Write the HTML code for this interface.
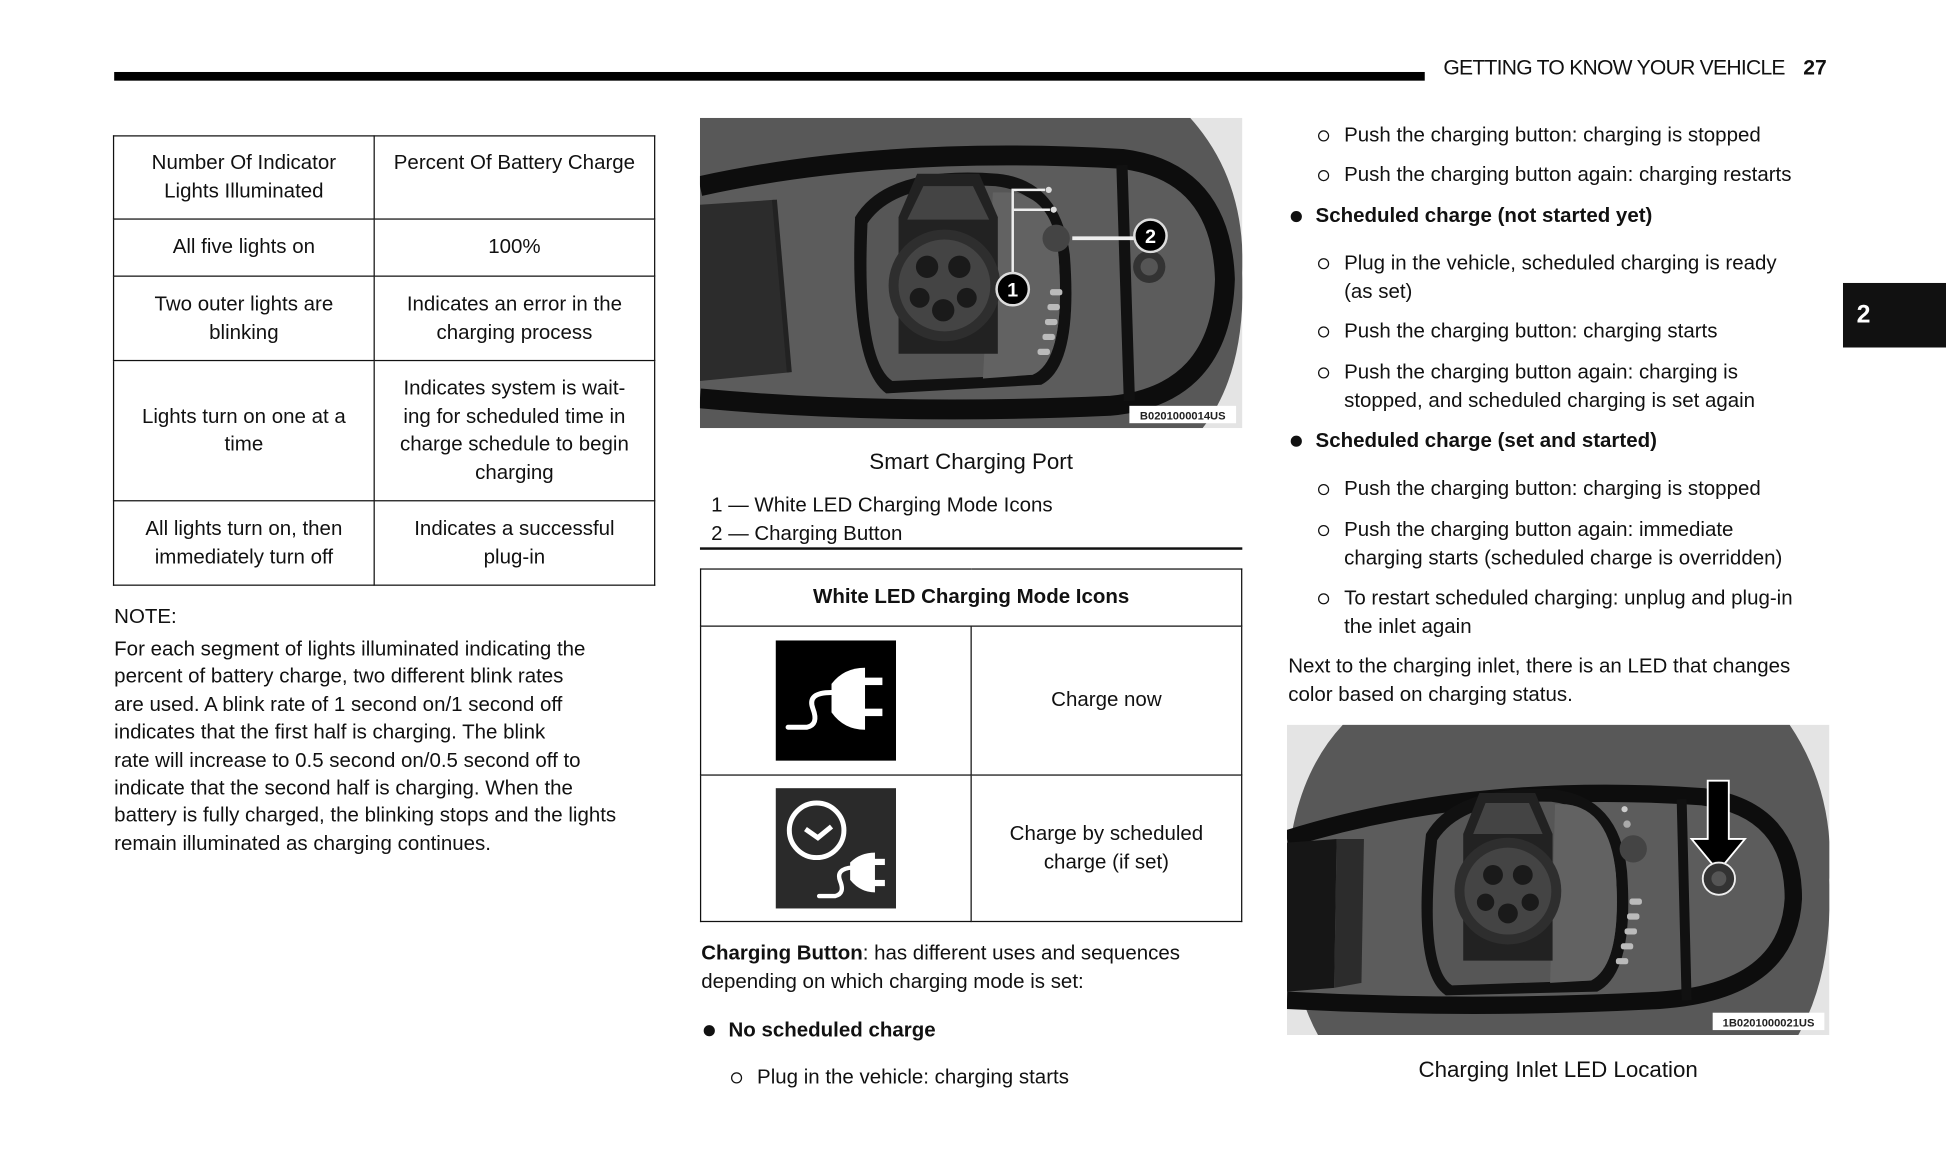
<!DOCTYPE html>
<html><head><meta charset="utf-8"><style>
*{margin:0;padding:0;box-sizing:border-box}
html,body{width:1946px;height:1174px;overflow:hidden;background:#fff}
#p{position:absolute;left:0;top:0;width:1568px;height:946px;transform:scale(1.24107);transform-origin:0 0;font-family:"Liberation Sans",sans-serif;color:#111;font-size:16.5px}
.a{position:absolute;white-space:nowrap;line-height:22.5px}
.c{text-align:center}
table{position:absolute;border-collapse:collapse}
td{border:1.5px solid #111;text-align:center;vertical-align:middle;line-height:22.5px;font-size:16.5px}
.b{font-weight:bold}
.dot{position:absolute;width:9px;height:9px;border-radius:50%;background:#111}
.ring{position:absolute;width:9px;height:9px;border-radius:50%;border:1.5px solid #111}
</style></head><body><div id="p">
<div style="position:absolute;left:92px;top:58px;width:1056px;height:7px;background:#000"></div>
<div class="a" style="left:1163px;top:44px;font-size:17px;letter-spacing:-0.6px">GETTING TO KNOW YOUR VEHICLE</div>
<div class="a b" style="left:1453px;top:44px;font-size:17px">27</div>
<div style="position:absolute;left:1485px;top:228px;width:83px;height:52px;background:#111"></div>
<div class="a b" style="left:1496px;top:243px;color:#fff;font-size:20px">2</div>

<table style="left:91px;top:109px;width:437px;height:363px">
<tr style="height:67px"><td style="width:210px;vertical-align:top;padding-top:10px">Number Of Indicator<br>Lights Illuminated</td><td style="vertical-align:top;padding-top:10px">Percent Of Battery Charge</td></tr>
<tr style="height:46px"><td>All five lights on</td><td>100%</td></tr>
<tr style="height:68px"><td>Two outer lights are<br>blinking</td><td>Indicates an error in the<br>charging process</td></tr>
<tr style="height:113px"><td>Lights turn on one at a<br>time</td><td>Indicates system is wait-<br>ing for scheduled time in<br>charge schedule to begin<br>charging</td></tr>
<tr style="height:68px"><td>All lights turn on, then<br>immediately turn off</td><td>Indicates a successful<br>plug-in</td></tr>
</table>
<div class="a" style="left:92px;top:486px">NOTE:</div>
<div class="a" style="left:92px;top:512px;line-height:22.4px">For each segment of lights illuminated indicating the<br>percent of battery charge, two different blink rates<br>are used. A blink rate of 1 second on/1 second off<br>indicates that the first half is charging. The blink<br>rate will increase to 0.5 second on/0.5 second off to<br>indicate that the second half is charging. When the<br>battery is fully charged, the blinking stops and the lights<br>remain illuminated as charging continues.</div>

<!-- photo 1 -->
<svg style="position:absolute;left:564px;top:95px" width="437" height="250" viewBox="0 0 437 250">
<rect width="437" height="250" fill="#e4e4e4"/>
<path d="M0 0 H395 Q440 50 437 125 Q440 205 405 250 H0Z" fill="#585858"/>
<path d="M0 55 Q150 22 340 33 Q420 43 423 130 Q420 224 330 232 Q150 240 0 226" stroke="#0d0d0d" stroke-width="16" fill="#5c5c5c"/>
<path d="M340 38 L346 228" stroke="#111" stroke-width="9"/>
<path d="M0 70 L60 66 L72 205 L0 212Z" fill="#2c2c2c"/>
<path d="M60 66 L72 205" stroke="#222" stroke-width="4"/>
<path d="M125 80 Q150 38 240 45 Q290 50 298 110 Q305 200 275 215 L150 222 Q120 200 125 80Z" fill="#111"/>
<path d="M135 85 Q158 50 238 55 Q283 60 289 112 Q295 195 268 207 L155 212 Q130 195 135 85Z" fill="#565656"/>
<path d="M248 60 Q285 62 289 112 Q295 195 268 207 L228 210 L236 60Z" fill="#626262"/>
<path d="M160 80 L175 45 L225 45 L240 80 L240 190 L160 190Z" fill="#222"/>
<path d="M167 82 L180 55 L220 55 L233 82Z" fill="#444"/>
<circle cx="197" cy="135" r="45" fill="#2e2e2e"/><circle cx="197" cy="135" r="37" fill="#444"/>
<circle cx="183" cy="120" r="9" fill="#1a1a1a"/><circle cx="209" cy="120" r="9" fill="#1a1a1a"/><circle cx="177" cy="145" r="8" fill="#1a1a1a"/><circle cx="215" cy="145" r="8" fill="#1a1a1a"/><circle cx="196" cy="155" r="9" fill="#1a1a1a"/>
<circle cx="287" cy="97" r="11" fill="#444"/>
<g fill="#bbb"><rect x="282" y="138" width="10" height="5" rx="2"/><rect x="280" y="150" width="10" height="5" rx="2"/><rect x="278" y="162" width="10" height="5" rx="2"/><rect x="276" y="174" width="10" height="5" rx="2"/><rect x="272" y="186" width="10" height="5" rx="2"/></g>
<path d="M252 130 V58 H278 M252 74 H282" stroke="#eee" stroke-width="2" fill="none"/>
<circle cx="281" cy="58" r="2.5" fill="#ddd"/><circle cx="285" cy="74" r="2.5" fill="#ddd"/>
<path d="M300 97 H350" stroke="#eee" stroke-width="3"/>
<circle cx="362" cy="120" r="13" fill="#333"/><circle cx="362" cy="120" r="7" fill="#555"/>
<circle cx="252" cy="138" r="13" fill="#000" stroke="#ddd" stroke-width="2"/><text x="252" y="144" fill="#fff" font-size="16" font-weight="bold" text-anchor="middle" font-family="Liberation Sans">1</text>
<circle cx="363" cy="95" r="13" fill="#000" stroke="#ddd" stroke-width="2"/><text x="363" y="101" fill="#fff" font-size="16" font-weight="bold" text-anchor="middle" font-family="Liberation Sans">2</text>
<rect x="346" y="232" width="86" height="14" fill="#fff"/><text x="389" y="243" font-size="9" font-weight="bold" text-anchor="middle" font-family="Liberation Sans" fill="#222">B0201000014US</text>
</svg>
<div class="a c" style="left:564px;width:437px;top:361px;font-size:18px">Smart Charging Port</div>
<div class="a" style="left:573px;top:396px">1 — White LED Charging Mode Icons<br>2 — Charging Button</div>
<div style="position:absolute;left:564px;top:441px;width:437px;height:1.5px;background:#111"></div>

<table style="left:564px;top:458px;width:437px;height:285px">
<tr style="height:46px"><td colspan="2" style="font-weight:bold">White LED Charging Mode Icons</td></tr>
<tr style="height:120px"><td style="width:218px"><svg width="97" height="97" viewBox="0 0 97 97" style="display:block;margin:0 auto"><rect width="97" height="97" fill="#000"/><path d="M10 70 H25 Q35 68 30 55 Q25 42 45 42" stroke="#fff" stroke-width="4" fill="none" stroke-linecap="round"/><path d="M45 35 Q55 22 72 22 V72 Q55 72 45 58Z" fill="#fff"/><rect x="70" y="30" width="16" height="6" fill="#fff"/><rect x="70" y="55" width="16" height="6" fill="#fff"/></svg></td><td>Charge now</td></tr>
<tr><td><svg width="97" height="97" viewBox="0 0 97 97" style="display:block;margin:0 auto"><rect width="97" height="97" fill="#2a2a2a"/><circle cx="33" cy="34" r="22" stroke="#fff" stroke-width="4" fill="none"/><path d="M24 33 L34 40 L45 31" stroke="#fff" stroke-width="4" fill="none"/><path d="M35 87 H48 Q56 85 52 75 Q48 65 62 64" stroke="#fff" stroke-width="3.5" fill="none" stroke-linecap="round"/><path d="M60 60 Q68 52 80 52 V84 Q68 84 60 74Z" fill="#fff"/><rect x="78" y="57" width="10" height="5" fill="#fff"/><rect x="78" y="74" width="10" height="5" fill="#fff"/></svg></td><td>Charge by scheduled<br>charge (if set)</td></tr>
</table>
<div class="a" style="left:565px;top:757px"><b>Charging Button</b>: has different uses and sequences<br>depending on which charging mode is set:</div>
<div class="dot" style="left:567px;top:826px"></div><div class="a b" style="left:587px;top:819px">No scheduled charge</div>
<div class="ring" style="left:589px;top:864px"></div><div class="a" style="left:610px;top:857px">Plug in the vehicle: charging starts</div>

<div class="ring" style="left:1062px;top:105px"></div><div class="a" style="left:1083px;top:98px">Push the charging button: charging is stopped</div>
<div class="ring" style="left:1062px;top:137px"></div><div class="a" style="left:1083px;top:130px">Push the charging button again: charging restarts</div>
<div class="dot" style="left:1040px;top:170px"></div><div class="a b" style="left:1060px;top:163px">Scheduled charge (not started yet)</div>
<div class="ring" style="left:1062px;top:208px"></div><div class="a" style="left:1083px;top:201px">Plug in the vehicle, scheduled charging is ready<br>(as set)</div>
<div class="ring" style="left:1062px;top:263px"></div><div class="a" style="left:1083px;top:256px">Push the charging button: charging starts</div>
<div class="ring" style="left:1062px;top:296px"></div><div class="a" style="left:1083px;top:289px">Push the charging button again: charging is<br>stopped, and scheduled charging is set again</div>
<div class="dot" style="left:1040px;top:351px"></div><div class="a b" style="left:1060px;top:344px">Scheduled charge (set and started)</div>
<div class="ring" style="left:1062px;top:390px"></div><div class="a" style="left:1083px;top:383px">Push the charging button: charging is stopped</div>
<div class="ring" style="left:1062px;top:423px"></div><div class="a" style="left:1083px;top:416px">Push the charging button again: immediate<br>charging starts (scheduled charge is overridden)</div>
<div class="ring" style="left:1062px;top:478px"></div><div class="a" style="left:1083px;top:471px">To restart scheduled charging: unplug and plug-in<br>the inlet again</div>
<div class="a" style="left:1038px;top:526px">Next to the charging inlet, there is an LED that changes<br>color based on charging status.</div>

<!-- photo 2 -->
<svg style="position:absolute;left:1037px;top:584px" width="437" height="250" viewBox="0 0 437 250">
<rect width="437" height="250" fill="#e4e4e4"/>
<path d="M45 0 H405 Q442 55 437 125 Q440 200 412 250 H25 Q0 205 0 125 Q3 45 45 0Z" fill="#585858"/>
<path d="M0 92 Q150 45 335 58 Q408 68 408 140 Q404 215 300 222 Q150 230 0 222" stroke="#0d0d0d" stroke-width="14" fill="#5c5c5c"/>
<path d="M318 60 L322 222" stroke="#111" stroke-width="8"/>
<path d="M0 95 L40 92 L38 212 L0 215Z" fill="#161616"/>
<path d="M40 92 L62 92 L60 208 L38 212Z" fill="#2c2c2c"/>
<path d="M112 88 Q135 48 215 52 Q268 58 274 118 Q280 200 250 215 L128 218 Q100 200 112 88Z" fill="#111"/>
<path d="M121 93 Q142 60 213 62 Q260 68 265 120 Q270 193 245 206 L133 210 Q110 195 121 93Z" fill="#565656"/>
<path d="M225 64 Q260 68 265 120 Q270 193 245 206 L212 208 L216 64Z" fill="#626262"/>
<path d="M142 88 L155 55 L200 55 L214 88 L214 190 L142 190Z" fill="#222"/>
<path d="M150 88 L160 63 L195 63 L206 88Z" fill="#444"/>
<circle cx="178" cy="134" r="43" fill="#2e2e2e"/><circle cx="178" cy="134" r="35" fill="#444"/>
<circle cx="166" cy="121" r="8" fill="#1a1a1a"/><circle cx="190" cy="121" r="8" fill="#1a1a1a"/><circle cx="160" cy="143" r="7" fill="#1a1a1a"/><circle cx="196" cy="143" r="7" fill="#1a1a1a"/><circle cx="178" cy="152" r="8" fill="#1a1a1a"/>
<circle cx="279" cy="100" r="11" fill="#444"/>
<g fill="#bbb"><rect x="276" y="140" width="10" height="5" rx="2"/><rect x="274" y="152" width="10" height="5" rx="2"/><rect x="272" y="164" width="10" height="5" rx="2"/><rect x="269" y="176" width="10" height="5" rx="2"/><rect x="265" y="188" width="10" height="5" rx="2"/></g>
<circle cx="272" cy="68" r="2.5" fill="#ccc"/><circle cx="274" cy="80" r="3" fill="#aaa"/>
<path d="M339 45 H356 V92 H369 L347.5 118 L326 92 H339 Z" fill="#000" stroke="#fff" stroke-width="1.5"/>
<circle cx="348" cy="124" r="13" fill="#333" stroke="#eee" stroke-width="1.5"/><circle cx="348" cy="124" r="6" fill="#555"/>
<rect x="343" y="232" width="90" height="14" fill="#fff"/><text x="388" y="243" font-size="9" font-weight="bold" text-anchor="middle" font-family="Liberation Sans" fill="#222">1B0201000021US</text>
</svg>
<div class="a c" style="left:1037px;width:437px;top:851px;font-size:18px">Charging Inlet LED Location</div>
</div></body></html>
